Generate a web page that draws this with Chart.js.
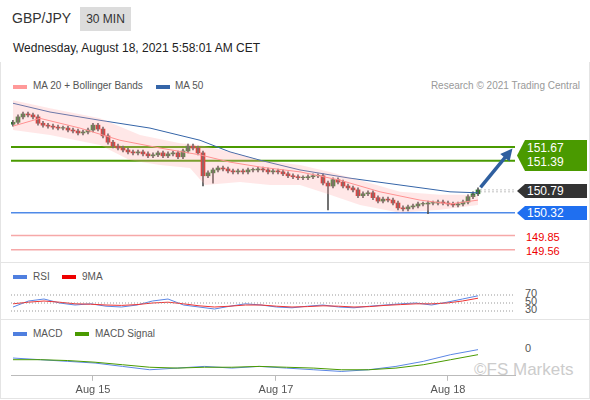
<!DOCTYPE html><html><head><meta charset="utf-8">
<script src="https://cdn.jsdelivr.net/npm/chart.js@4"></script>
<style>
body{margin:0;width:590px;height:400px;position:relative;font-family:"Liberation Sans",Arial,sans-serif;background:#fff;overflow:hidden}
.a{position:absolute;white-space:nowrap}
canvas{position:absolute;left:0}
.box{position:absolute;color:#fff;font-size:12px;line-height:14px;padding-left:10px}
</style></head><body>
<div class="a" style="left:12px;top:10px;font-size:14px;color:#333">GBP/JPY</div>
<div class="a" style="left:80px;top:7px;width:51px;height:24px;background:#dcdcdc;font-size:12px;line-height:24px;text-align:center;color:#333">30 MIN</div>
<div class="a" style="left:13px;top:41px;font-size:12px;color:#222">Wednesday, August 18, 2021 5:58:01 AM CET</div>
<div class="a" style="left:0;top:62px;width:588px;height:336px;border:1px solid #e4e4e4;border-top:none"></div>
<div class="a" style="left:13px;top:85px;width:14px;height:4px;background:#f99"></div>
<div class="a" style="left:33px;top:80px;font-size:10px;color:#555">MA 20 + Bollinger Bands</div>
<div class="a" style="left:156px;top:85px;width:14px;height:4px;background:#3565a8"></div>
<div class="a" style="left:175px;top:80px;font-size:10px;color:#555">MA 50</div>
<div class="a" style="right:10px;top:80px;font-size:10px;color:#999">Research © 2021 Trading Central</div>
<div class="a" style="left:0;top:262px;width:590px;border-top:1px solid #e4e4e4"></div>
<div class="a" style="left:0;top:319px;width:590px;border-top:1px solid #e4e4e4"></div>
<div class="a" style="left:13px;top:275px;width:14px;height:4px;background:#4f7fdf"></div>
<div class="a" style="left:33px;top:271px;font-size:10px;color:#555">RSI</div>
<div class="a" style="left:62px;top:275px;width:14px;height:4px;background:#e00"></div>
<div class="a" style="left:82px;top:271px;font-size:10px;color:#555">9MA</div>
<div class="a" style="left:13px;top:332px;width:14px;height:4px;background:#4f7fdf"></div>
<div class="a" style="left:33px;top:328px;font-size:10px;color:#555">MACD</div>
<div class="a" style="left:75px;top:332px;width:14px;height:4px;background:#4a9a00"></div>
<div class="a" style="left:95px;top:328px;font-size:10px;color:#555">MACD Signal</div>
<div class="a" style="left:525px;top:289px;font-size:11px;color:#555;line-height:8px">70<br>50<br>30</div>
<div class="a" style="left:525px;top:342px;font-size:11px;color:#555">0</div>
<div class="a" style="left:474px;top:360px;font-size:17px;color:#ccc">©FS Markets</div>
<div class="box" style="left:517px;top:140px;width:60px;height:30px;background:#4a9a00;padding-top:1px;clip-path:polygon(8px 0,100% 0,100% 100%,8px 100%,0 50%)">151.67<br>151.39</div>
<div class="box" style="left:517px;top:184px;width:60px;height:14px;background:#333;clip-path:polygon(8px 0,100% 0,100% 100%,8px 100%,0 50%)">150.79</div>
<div class="box" style="left:517px;top:206px;width:60px;height:14px;background:#1f6ff0;clip-path:polygon(8px 0,100% 0,100% 100%,8px 100%,0 50%)">150.32</div>
<div class="a" style="left:526px;top:231px;font-size:11px;color:#e00">149.85</div>
<div class="a" style="left:526px;top:245px;font-size:11px;color:#e00">149.56</div>
<canvas id="c1" style="top:95px" width="590" height="163"></canvas>
<canvas id="c2" style="top:285px" width="590" height="33"></canvas>
<canvas id="c3" style="top:330px" width="590" height="70"></canvas>
<script>
const closes=[152.18,152.29,152.35,152.33,152.29,152.16,152.12,152.10,152.08,152.06,152.06,152.02,152.00,151.96,151.98,152.02,152.12,152.04,151.90,151.77,151.69,151.65,151.61,151.57,151.55,151.57,151.53,151.49,151.51,151.55,151.49,151.53,151.55,151.47,151.59,151.69,151.65,151.55,151.08,151.14,151.20,151.24,151.22,151.18,151.16,151.18,151.16,151.20,151.20,151.22,151.20,151.16,151.18,151.16,151.12,151.08,151.06,151.04,151.04,151.06,151.08,151.08,150.93,150.87,151.00,150.95,150.87,150.83,150.79,150.67,150.71,150.73,150.63,150.56,150.60,150.58,150.52,150.42,150.40,150.44,150.46,150.50,150.50,150.52,150.52,150.54,150.52,150.50,150.48,150.50,150.54,150.65,150.71,150.79];
const firstOpen=152.14;
const wickSize=0.04;
const longLows={38:150.87,40:150.93,63:150.38,83:150.30};
const ma50=[[0,152.57],[7.4,152.39],[17.4,152.22],[27.4,152.06],[37.4,151.81],[43.4,151.57],[49.4,151.40],[57.4,151.20],[67.4,151.03],[77.4,150.89],[87.4,150.75],[93,150.73]];
const ma20=[[0,152.10],[5.4,152.26],[13.4,152.06],[21.4,151.81],[29.4,151.65],[37.4,151.51],[43.4,151.36],[49.4,151.26],[57.4,151.16],[65.4,150.99],[73.4,150.75],[81.4,150.58],[87.4,150.50],[93,150.58]];
const bandUp=[[0,152.63],[7.4,152.47],[17.4,152.26],[25.4,151.92],[33.4,151.75],[37.4,151.71],[43.4,151.57],[49.4,151.40],[57.4,151.30],[63.4,151.16],[69.4,150.99],[77.4,150.75],[85.4,150.69],[93,150.69]];
const bandLo=[[0,152.02],[7.4,151.92],[17.4,151.71],[23.4,151.40],[29.4,151.30],[35.4,151.24],[38.4,150.89],[45.4,150.95],[51.4,150.89],[57.4,150.89],[63.4,150.69],[69.4,150.48],[77.4,150.32],[85.4,150.38],[93,150.48]];
const levelsGreen=[151.67,151.39], levelBlue=150.32, levelsRed=[149.85,149.56], levelsDot=[150.79,150.75];
const rsi=[40,55,60,50,45,48,42,40,45,55,60,45,40,35,42,48,45,40,38,42,45,40,38,42,45,48,50,45,52,60,68];
const rsiMA=[48,52,55,52,48,47,45,44,46,50,52,48,43,40,42,45,45,42,40,41,43,42,40,41,44,46,48,48,50,55,62];
const macd=[-0.05,-0.06,-0.07,-0.08,-0.10,-0.12,-0.11,-0.10,-0.11,-0.10,-0.11,-0.12,-0.13,-0.12,-0.10,-0.07,-0.03,0.0];
const signal=[-0.06,-0.06,-0.065,-0.075,-0.09,-0.105,-0.11,-0.105,-0.105,-0.10,-0.105,-0.11,-0.12,-0.12,-0.11,-0.09,-0.06,-0.03];
const dateTicks=[[16,'Aug 15'],[52.6,'Aug 17'],[87,'Aug 18']];

const X={type:'linear',min:-0.4,max:100.4,display:false};
const pad={left:11,right:75,top:0,bottom:0};
const base={responsive:false,animation:false,plugins:{legend:{display:false},tooltip:{enabled:false}},layout:{padding:pad}};
const opens=closes.map((c,i)=>i?closes[i-1]:firstOpen);
const up=closes.map((c,i)=>c>=opens[i]);
const pts=a=>a.map(p=>({x:p[0],y:p[1]}));
const hline=(v,x0,x1,color,w,dash)=>({type:'line',data:[{x:x0,y:v},{x:x1,y:v}],borderColor:color,borderWidth:w,borderDash:dash||[],pointRadius:0});
const ds=[
 {type:'line',data:pts(bandUp),borderWidth:0,pointRadius:0,fill:'+1',backgroundColor:'rgba(255,170,170,0.28)'},
 {type:'line',data:pts(bandLo),borderWidth:0,pointRadius:0},
 {type:'line',data:pts(ma50),borderColor:'#3565a8',borderWidth:1,pointRadius:0},
 {type:'line',data:pts(ma20),borderColor:'#f88',borderWidth:1,pointRadius:0},
 {type:'bar',data:closes.map((c,i)=>({x:i,y:[(i in longLows)?longLows[i]:Math.min(c,opens[i])-wickSize,Math.max(c,opens[i])+wickSize]})),backgroundColor:'#555',barThickness:1,grouped:false},
 {type:'bar',data:closes.map((c,i)=>({x:i,y:[opens[i],c===opens[i]?c+0.01:c]})),backgroundColor:up.map(u=>u?'#2f7d2f':'#d0201c'),barThickness:4,grouped:false},
 ...levelsGreen.map(v=>hline(v,-0.4,100.4,'#4a9a00',2)),
 hline(levelBlue,-0.4,100.4,'#4f8ae8',1.5),
 ...levelsRed.map(v=>hline(v,-0.4,100.4,'#f6a8a8',1.5)),
 ...levelsDot.map(v=>hline(v,93.5,100.4,'#888',1,[1,3]))
];
const arrow={id:'arrow',afterDatasetsDraw(ch){const x=ch.scales.x,y=ch.scales.y,c=ch.ctx;
 const x0=x.getPixelForValue(93.5),y0=y.getPixelForValue(150.84),x1=x.getPixelForValue(99.9),y1=y.getPixelForValue(151.64);
 const a=Math.atan2(y1-y0,x1-x0);c.save();c.strokeStyle=c.fillStyle='#2f5f9f';c.lineWidth=3.5;c.beginPath();c.moveTo(x0,y0);c.lineTo(x1-8*Math.cos(a),y1-8*Math.sin(a));c.stroke();
 c.beginPath();c.moveTo(x1,y1);c.lineTo(x1-12*Math.cos(a)+6*Math.sin(a),y1-12*Math.sin(a)-6*Math.cos(a));c.lineTo(x1-12*Math.cos(a)-6*Math.sin(a),y1-12*Math.sin(a)+6*Math.cos(a));c.fill();c.restore();}};
new Chart(c1,{data:{datasets:ds},options:{...base,scales:{x:{...X,offset:false},y:{min:149.39,max:152.74,display:false}}},plugins:[arrow]});
const seq=(a,n)=>a.map((v,i)=>({x:i*93/(a.length-1),y:v}));
new Chart(c2,{type:'line',data:{datasets:[
 ...[70,50,30].map(v=>hline(v,-0.4,100.4,'#999',1,[1,2])),
 {data:seq(rsiMA),borderColor:'#e33',borderWidth:1,pointRadius:0},
 {data:seq(rsi),borderColor:'#5b86e5',borderWidth:1,pointRadius:0}]},
 options:{...base,scales:{x:X,y:{min:12.5,max:95,display:false}}}});
new Chart(c3,{type:'line',data:{datasets:[
 {data:seq(signal),borderColor:'#4a9a00',borderWidth:1,pointRadius:0},
 {data:seq(macd),borderColor:'#5b86e5',borderWidth:1,pointRadius:0}]},
 options:{...base,layout:{padding:{left:11,right:75,top:0,bottom:0}},scales:{y:{min:-0.156,max:0.117,display:false},
 x:{type:'linear',min:-0.4,max:100.4,border:{color:'#bbb'},grid:{display:true,drawOnChartArea:false,tickLength:5,color:'#bbb'},
 afterBuildTicks:s=>{s.ticks=dateTicks.map(t=>({value:t[0]}));},
 ticks:{autoSkip:false,maxRotation:0,color:'#555',font:{size:11,family:'Liberation Sans'},callback:v=>{const t=dateTicks.find(d=>d[0]===v);return t?t[1]:'';}}}}}});
</script></body></html>
